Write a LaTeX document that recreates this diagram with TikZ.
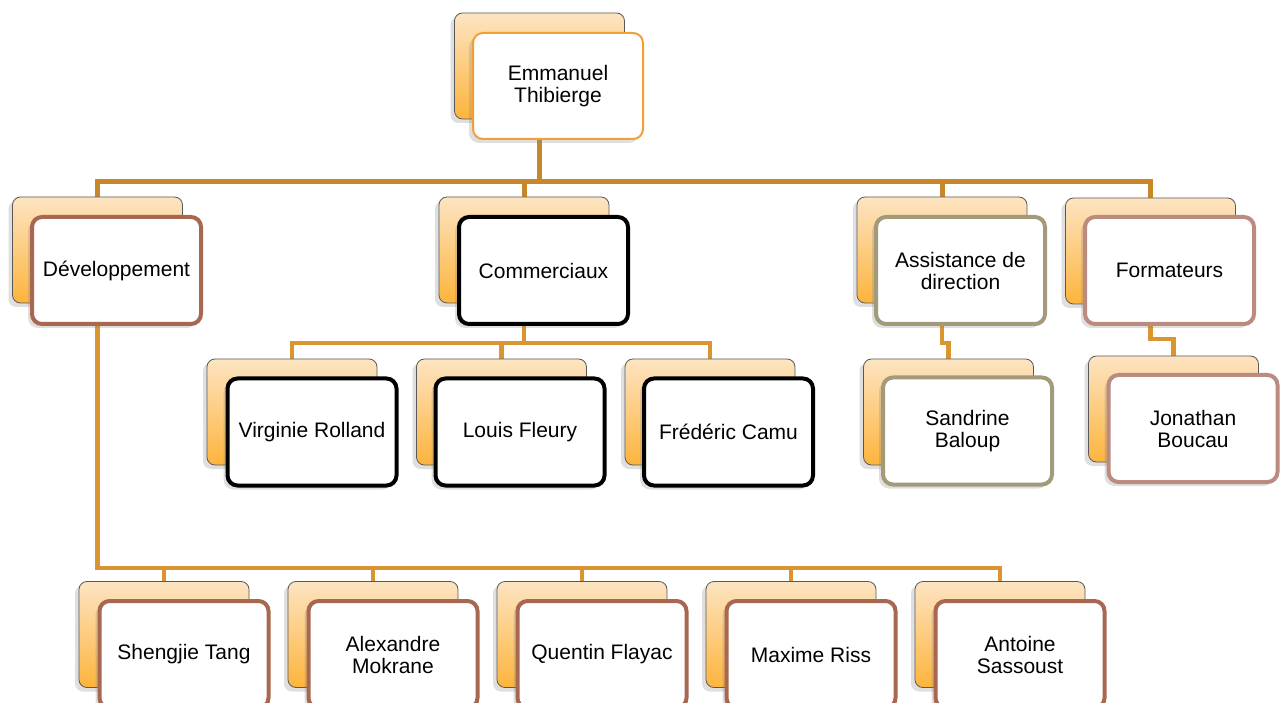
\documentclass[tikz,border=0pt]{standalone}
\usepackage{fontspec}
\setmainfont{Liberation Sans}
\usetikzlibrary{shadows,backgrounds}
\definecolor{busA}{HTML}{C8862A}
\definecolor{busB}{HTML}{D9952F}
\definecolor{peach}{HTML}{FDE4C2}
\definecolor{orng}{HTML}{FDB43C}
\definecolor{topbd}{HTML}{F0A035}
\definecolor{devbd}{HTML}{A86750}
\definecolor{asbd}{HTML}{A39A7A}
\definecolor{fobd}{HTML}{BB8B80}
\begin{document}
\begin{tikzpicture}[x=1pt,y=-1pt,
  backbox/.style={draw=black!65, line width=0.8pt, rounded corners=8pt,
    top color=peach, bottom color=orng, minimum width=170pt, minimum height=106pt,
    inner sep=0pt, drop shadow={shadow xshift=-4pt, shadow yshift=-4pt, opacity=0.25}},
  frontbox/.style={fill=white, rounded corners=10pt, line width=4pt,
    minimum width=169pt, minimum height=107pt, inner sep=0pt, align=center,
    font=\fontsize{21}{22}\selectfont,
    drop shadow={shadow xshift=-4pt, shadow yshift=-4pt, opacity=0.25}},
  busline/.style={draw=busA, line width=5pt},
  subline/.style={draw=busB, line width=4.5pt}]
\useasboundingbox (0,0) rectangle (1286,703);

% top
\node[backbox] (topB) at (539.5,66) {};
\node[frontbox, draw=topbd, line width=2pt, minimum width=170pt, minimum height=106pt] (topF) at (558,86) {Emmanuel\\Thibierge};

% level 1
\node[backbox] (devB) at (97.5,250) {};
\node[frontbox, draw=devbd] (devF) at (116.5,270.5) {Développement};
\node[backbox] (comB) at (524,250) {};
\node[frontbox, draw=black] (comF) at (543.5,270.5) {Commerciaux};
\node[backbox] (asB) at (942,250) {};
\node[frontbox, draw=asbd] (asF) at (960.5,270.5) {Assistance de\\direction};
\node[backbox] (foB) at (1150.5,251) {};
\node[frontbox, draw=fobd] (foF) at (1169.5,270.5) {Formateurs};

% level 2
\node[backbox] (virB) at (292,412) {};
\node[frontbox, draw=black] (virF) at (312,432) {Virginie Rolland};
\node[backbox] (louB) at (501.5,412) {};
\node[frontbox, draw=black] (louF) at (520,432) {Louis Fleury};
\node[backbox] (freB) at (710,412) {};
\node[frontbox, draw=black] (freF) at (728.5,432) {Frédéric Camu};
\node[backbox] (sanB) at (948.5,412) {};
\node[frontbox, draw=asbd] (sanF) at (967.5,431) {Sandrine\\Baloup};
\node[backbox] (jonB) at (1173.5,409) {};
\node[frontbox, draw=fobd] (jonF) at (1193,428.5) {Jonathan\\Boucau};

% level 3
\node[backbox] (shB) at (164,634.5) {};
\node[frontbox, draw=devbd] (shF) at (184,654.5) {Shengjie Tang};
\node[backbox] (alB) at (373,634.5) {};
\node[frontbox, draw=devbd] (alF) at (393,654.5) {Alexandre\\Mokrane};
\node[backbox] (quB) at (582,634.5) {};
\node[frontbox, draw=devbd] (quF) at (602,654.5) {Quentin Flayac};
\node[backbox] (maB) at (791,634.5) {};
\node[frontbox, draw=devbd] (maF) at (811,654.5) {Maxime Riss};
\node[backbox] (anB) at (1000,634.5) {};
\node[frontbox, draw=devbd] (anF) at (1020,654.5) {Antoine\\Sassoust};

\coordinate (b1) at (0,182);
\coordinate (b2) at (0,343);
\coordinate (b3) at (0,568);
\coordinate (b5) at (0,339);

\begin{scope}[on background layer]
\fill[white] (0,0) rectangle (1286,703);
\draw[busline] (topB.south) -- (topB.south |- b1) -| (devB.north);
\draw[busline] (topB.south) -- (topB.south |- b1) -| (comB.north);
\draw[busline] (topB.south) -- (topB.south |- b1) -| (asB.north);
\draw[busline] (topB.south) -- (topB.south |- b1) -| (foB.north);

\draw[subline] (comB.south) -- (comB.south |- b2) -| (virB.north);
\draw[subline] (comB.south) -- (comB.south |- b2) -| (louB.north);
\draw[subline] (comB.south) -- (comB.south |- b2) -| (freB.north);

\draw[subline] (asB.south) -- (asB.south |- b2) -| (sanB.north);
\draw[subline] (foB.south) -- (foB.south |- b5) -| (jonB.north);

\draw[subline] (devB.south) -- (devB.south |- b3) -| (shB.north);
\draw[subline] (devB.south) -- (devB.south |- b3) -| (alB.north);
\draw[subline] (devB.south) -- (devB.south |- b3) -| (quB.north);
\draw[subline] (devB.south) -- (devB.south |- b3) -| (maB.north);
\draw[subline] (devB.south) -- (devB.south |- b3) -| (anB.north);
\end{scope}
\end{tikzpicture}
\end{document}
